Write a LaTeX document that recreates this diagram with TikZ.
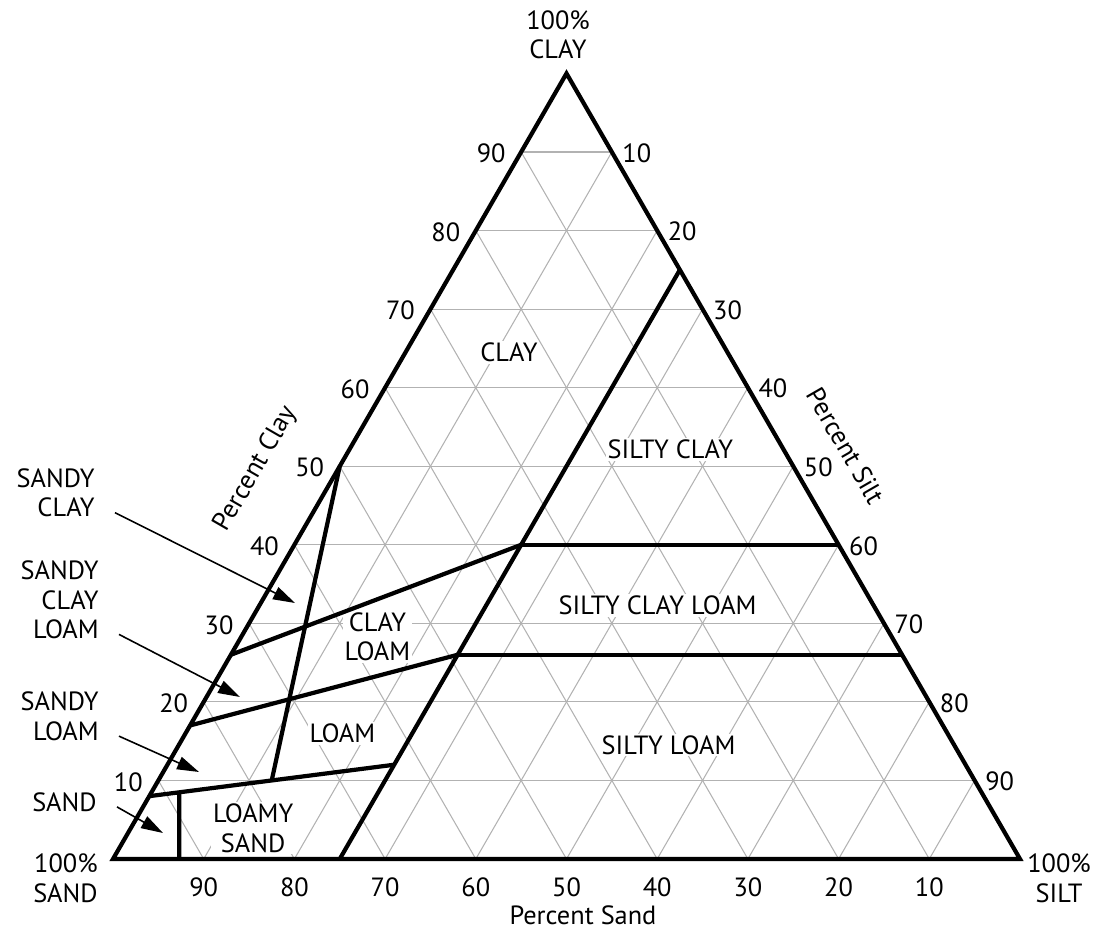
\documentclass[tikz,border=0pt]{standalone}
\usepackage{fontspec}
\setmainfont{PT Sans}
\usepackage{tikz}
\usetikzlibrary{arrows.meta,positioning}

\tikzset{
  grid line/.style={black!30, line width=0.6pt},
  soil line/.style={line width=2.4pt},
  region/.style={fill=white, inner sep=1pt, align=center},
  side label/.style={inner sep=0pt, align=right, anchor=east},
  pointer/.style={line width=0.9pt, -{Triangle[length=12.5pt,width=7.5pt]}},
}

\begin{document}
\begin{tikzpicture}[x={(0.1814cm,0)}, y={(0.0907cm,0.1571cm)},
    font=\fontsize{15}{16.8}\selectfont]
    \useasboundingbox (-2.26cm,-1.5cm) rectangle (19.72cm,17.18cm);
    % Grid (silt, clay)
    \foreach \v in {10,20,...,90}{
        \draw[grid line] (0,\v) -- (100-\v,\v);
        \draw[grid line] (\v,0) -- (\v,100-\v);
        \draw[grid line] (\v,0) -- (0,\v);
    }
    % Tick labels
    \foreach \v in {10,20,...,90}{
        \pgfmathtruncatemacro{\w}{100-\v}
        \node (clay\v) at ([xshift=-0.6cm,yshift=-0.03cm]0,\v) {\v};
        \node (silt\v) at ([xshift=0.5cm,yshift=-0.02cm]\v,\w) {\v};
        \node (sand\w) at ([yshift=-0.56cm]\v,0) {\w};
    }
    % Region names
    \node[region] (clay) at (11.4,64.5) {CLAY};
    \node[region] (siltyclay) at (35.4,52.1) {SILTY CLAY};
    \node[region] (siltyclayloam) at (43.9,32.3) {SILTY CLAY LOAM};
    \node[region] (clayloam) at (15,28.3) {CLAY\\LOAM};
    \node[region] (loam) at (17.3,16) {LOAM};
    \node[region] (siltyloam) at (54,14.5) {SILTY LOAM};
    \node[region] (loamysand) at (13.5,3.9) {LOAMY\\SAND};
    % Triangle
    \draw[soil line] (0,0) -- (100,0) -- (0,100) -- cycle;
    % Class boundaries
    \draw[soil line] (25,0) -- (25,75);
    \draw[soil line] (25,40) -- (60,40);
    \draw[soil line] (25,26) -- (74,26);
    \draw[soil line] (0,26) -- (25,40);
    \draw[soil line] (0,17) -- (25,26);
    \draw[soil line] (0,8) -- (25,12);
    \draw[soil line] (0,50) -- (12.5,10);
    \draw[soil line] (7.3,0) -- (3.06,8.49);
    % Corners and axis names
    \node[align=center] (topclay) at (8.9cm,16.48cm) {100\%\\CLAY};
    \node[align=center] (rightsilt) at (18.92cm,-0.38cm) {100\%\\SILT};
    \node[side label] (leftsand) at (-0.3cm,-0.38cm) {100\%\\SAND};
    \node (pcsand) at (9.4cm,-1.12cm) {Percent Sand};
    \node[rotate=60] (pcclay) at (2.86cm,7.8cm) {Percent Clay};
    \node[rotate=-60] (pcsilt) at (14.66cm,8.26cm) {Percent Silt};
    % Names beside the triangle
    \node[side label] (sc) at (-0.36cm,7.32cm) {SANDY\\CLAY};
    \node[side label] (scl) at (-0.28cm,5.18cm) {SANDY\\CLAY\\LOAM};
    \node[side label] (sl) at (-0.28cm,2.85cm) {SANDY\\LOAM};
    \node[side label] (sd) at (-0.32cm,1.14cm) {SAND};
    \coordinate (sctip) at (3.64cm,5.12cm);
    \coordinate (scltip) at (2.54cm,3.24cm);
    \coordinate (sltip) at (1.72cm,1.74cm);
    \coordinate (sdtip) at (1.0cm,0.52cm);
    \draw[pointer] ([shift={(0.4cm,0.1cm)}]sc.south east) -- (sctip);
    \draw[pointer] ([shift={(0.4cm,0.1cm)}]scl.south east) -- (scltip);
    \draw[pointer] ([shift={(0.4cm,0.1cm)}]sl.south east) -- (sltip);
    \draw[pointer] ([shift={(0.4cm,0.1cm)}]sd.south east) -- (sdtip);
\end{tikzpicture}
\end{document}
